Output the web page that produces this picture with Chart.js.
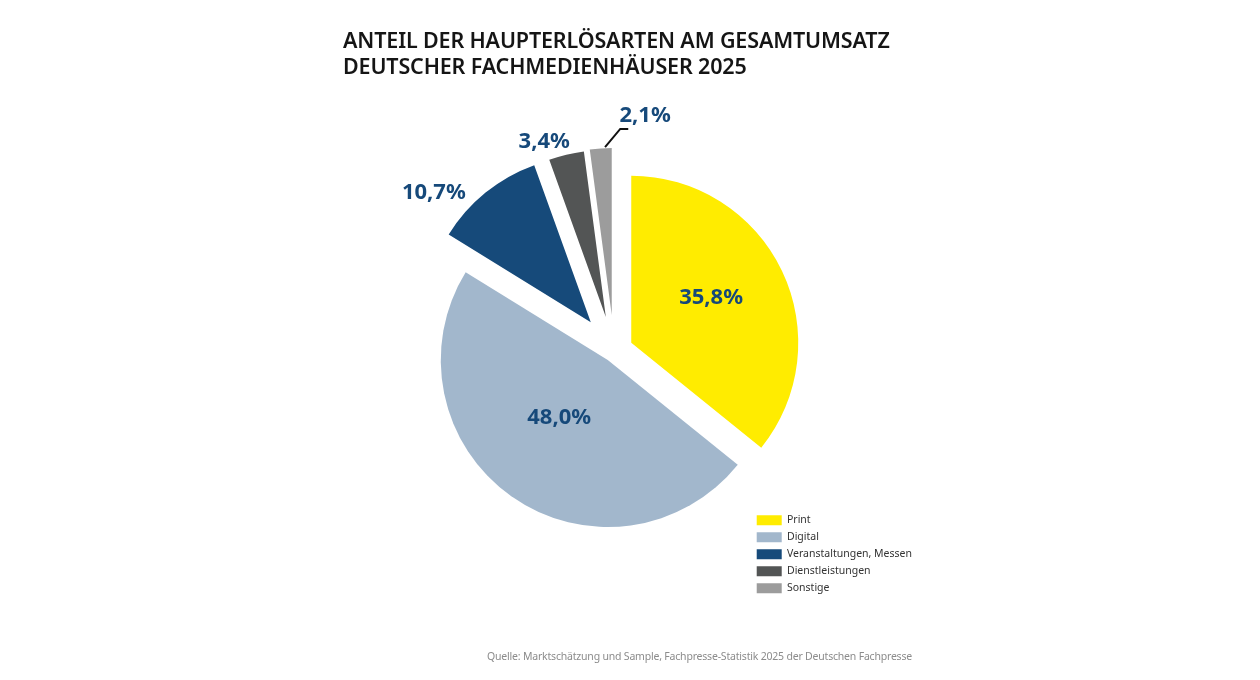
<!DOCTYPE html>
<html><head><meta charset="utf-8">
<script src="https://cdn.jsdelivr.net/npm/chart.js@4.4.1/dist/chart.umd.min.js"></script>
<style>
html,body{margin:0;padding:0;background:#fff;}
#wrap{position:relative;width:1260px;height:680px;overflow:hidden;}
#c{position:absolute;left:0;top:0;}
#title{position:absolute;left:343px;top:27px;font-family:"Noto Sans",sans-serif;font-weight:600;font-size:21.5px;letter-spacing:-0.15px;line-height:26px;color:#151515;white-space:nowrap;}
#source{position:absolute;right:348px;top:649px;font-family:"Noto Sans",sans-serif;font-size:10.5px;letter-spacing:-0.2px;line-height:15px;color:#8c8c8c;white-space:nowrap;}
</style></head>
<body><div id="wrap"><canvas id="c" width="1260" height="680"></canvas>
<div id="title">ANTEIL DER HAUPTERLÖSARTEN AM GESAMTUMSATZ<br>DEUTSCHER FACHMEDIENHÄUSER 2025</div>
<div id="source">Quelle: Marktschätzung und Sample, Fachpresse-Statistik 2025 der Deutschen Fachpresse</div></div>
<script>
// ---- data ----
const categories = ['Print', 'Digital', 'Veranstaltungen, Messen', 'Dienstleistungen', 'Sonstige'];
const shares = [35.8, 48.0, 10.7, 3.4, 2.1];
const valueLabels = shares.map(v => v.toFixed(1).replace('.', ',') + '%');

// ---- styles ----
const sliceColors = ['#FFEC00', '#A2B7CC', '#164A7A', '#535555', '#9C9C9C'];
const explode = [19, 11, 37, 35, 36];           // radial explosion of each slice (px)
const labelPlace = [                              // label placement relative to slice (angle shift deg, radius factor)
  {da: -3.7, rf: 0.548},
  {da: 4.7, rf: 0.453},
  {da: -11.5, rf: 1.217},
  {da: -5.7, rf: 1.111},
  {da: 13.3, rf: 1.209, leader: true}
];
const labelColor = '#16497A';

const explodePlugin = {
  id: 'explode',
  afterDatasetUpdate(chart, args) {
    args.meta.data.forEach((arc, i) => {
      const mid = (arc.startAngle + arc.endAngle) / 2;
      const d = explode[i] || 0;
      arc.x += Math.cos(mid) * d;
      arc.y += Math.sin(mid) * d;
    });
  }
};

const labelPlugin = {
  id: 'valueLabels',
  afterDatasetsDraw(chart) {
    const ctx = chart.ctx;
    const meta = chart.getDatasetMeta(0);
    ctx.save();
    ctx.font = 'bold 22px "Noto Sans", sans-serif';
    ctx.fillStyle = labelColor;
    ctx.textAlign = 'center';
    ctx.textBaseline = 'middle';
    const rad = Math.PI / 180;
    meta.data.forEach((arc, i) => {
      const p = labelPlace[i];
      const mid = (arc.startAngle + arc.endAngle) / 2;
      const a = mid + p.da * rad;
      const r = arc.outerRadius * p.rf;
      ctx.fillText(valueLabels[i], arc.x + Math.cos(a) * r, arc.y + Math.sin(a) * r);
      if (p.leader) {
        const a1 = mid + 1.5 * rad, r1 = arc.outerRadius * 1.007;
        const a2 = mid + 6.4 * rad, r2 = arc.outerRadius * 1.116;
        const x1 = arc.x + Math.cos(a1) * r1, y1 = arc.y + Math.sin(a1) * r1;
        const x2 = arc.x + Math.cos(a2) * r2, y2 = arc.y + Math.sin(a2) * r2;
        ctx.beginPath();
        ctx.moveTo(x1, y1); ctx.lineTo(x2, y2); ctx.lineTo(x2 + 8, y2);
        ctx.strokeStyle = '#111'; ctx.lineWidth = 2; ctx.lineJoin = 'miter';
        ctx.stroke();
      }
    });
    ctx.restore();
  }
};

new Chart(document.getElementById('c'), {
  type: 'pie',
  data: {
    labels: categories,
    datasets: [{
      data: shares,
      backgroundColor: sliceColors,
      borderWidth: 0,
      radius: 167,
      hoverOffset: 0,
      clip: false
    }]
  },
  options: {
    responsive: false,
    animation: false,
    layout: {padding: {left: 478, right: 338, top: 102, bottom: 80}},
    plugins: {
      tooltip: {enabled: false},
      legend: {
        position: 'right',
        align: 'end',
        labels: {
          boxWidth: 25, boxHeight: 10, padding: 6.5,
          color: '#333', font: {family: '"Noto Sans", sans-serif', size: 10.5}
        }
      }
    }
  },
  plugins: [explodePlugin, labelPlugin]
});
</script>
</body></html>
